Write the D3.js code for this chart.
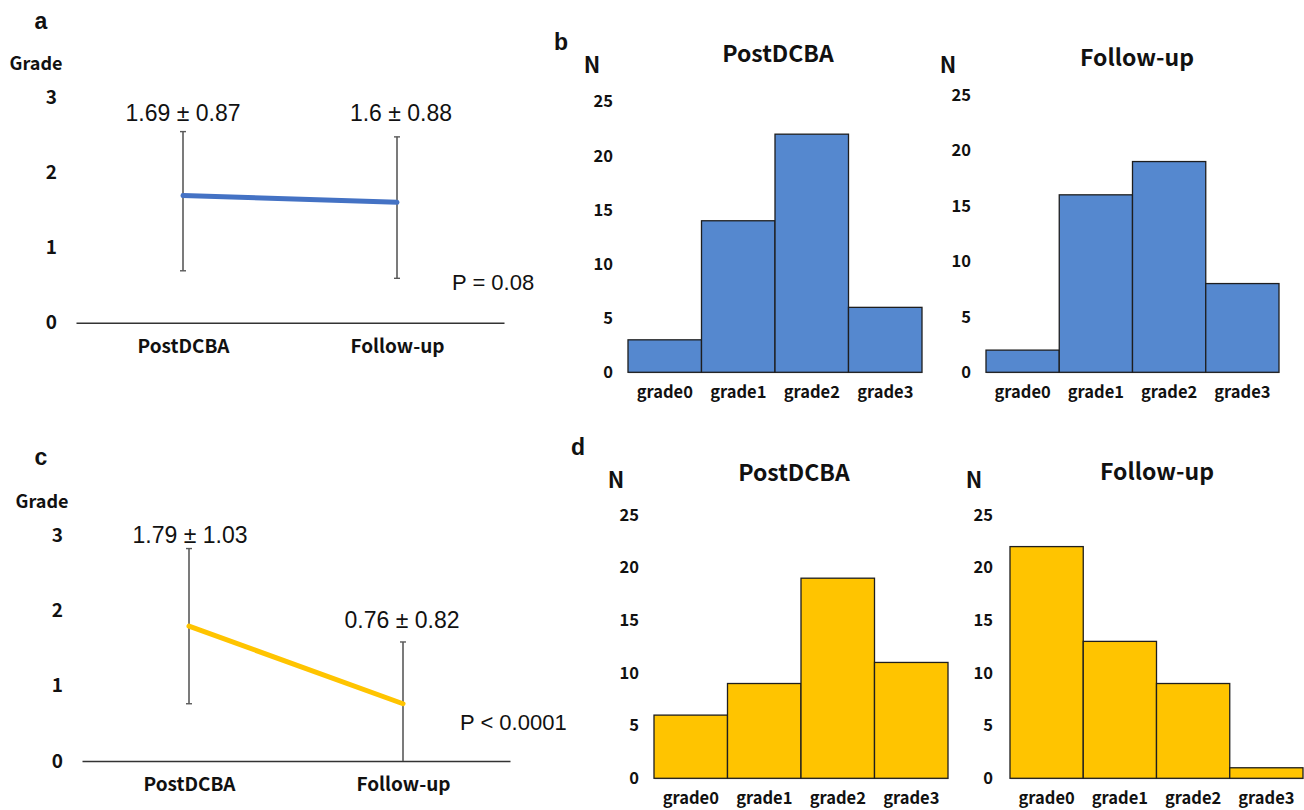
<!DOCTYPE html>
<html>
<head>
<meta charset="utf-8">
<script src="https://cdn.jsdelivr.net/npm/d3@7"></script>
<style>
  body { margin: 0; background: #fff; }
  svg text { fill: #111; }
  .num { font-family: "Liberation Sans", Arial, sans-serif; }
  .jp { font-family: "Noto Sans CJK JP", "Noto Sans", sans-serif; font-weight: 700; }
</style>
</head>
<body>
<div id="chart"></div>
<script>
//************************* data
const timepoints = ["PostDCBA", "Follow-up"];
const gradeTicks = [0, 1, 2, 3];

// panel a (blue)
const meanA = [1.69, 1.6];
const sdA = [0.87, 0.88];
const upperA = [2.54, 2.47];
const lowerA = [0.69, 0.59];
const pLabelA = "P = 0.08";

// panel c (yellow)
const meanC = [1.79, 0.76];
const sdC = [1.03, 0.82];
const upperC = [2.82, 1.58];
const lowerC = [0.76, 0];
const pLabelC = "P < 0.0001";

// histograms
const gradeCats = ["grade0", "grade1", "grade2", "grade3"];
const nTicks = [0, 5, 10, 15, 20, 25];
const countsBPost = [3, 14, 22, 6];
const countsBFollow = [2, 16, 19, 8];
const countsDPost = [6, 9, 19, 11];
const countsDFollow = [22, 13, 9, 1];

const blueLine = "#4472c4";
const blueBar = "#5588cf";
const yellow = "#ffc400";

//************************* canvas
const svg = d3.select("#chart").append("svg")
    .attr("width", 1304)
    .attr("height", 810);

function letter(txt, x, y) {
  svg.append("text")
    .attr("x", x).attr("y", y)
    .attr("text-anchor", "middle").attr("dominant-baseline", "central")
    .style("font-family", "Liberation Sans, Arial, sans-serif")
    .style("font-weight", 700).style("font-size", "23px")
    .text(txt);
}

//************************* line panel
function linePanel(o) {
  const g = svg.append("g");
  const x = d3.scalePoint().domain(timepoints).range([o.x0, o.x1]).padding(0.5);
  const y = d3.scaleLinear().domain([0, 3]).range([o.yBase, o.yTop]);

  const yAxis = g.append("g")
    .attr("transform", `translate(${o.x0},0)`)
    .call(d3.axisLeft(y).tickValues(gradeTicks).tickSize(0).tickPadding(19).tickFormat(d3.format("d")));
  yAxis.select(".domain").remove();
  yAxis.selectAll("text").attr("class", "jp").style("font-size", "19px");

  const xAxis = g.append("g")
    .attr("transform", `translate(0,${o.yBase})`)
    .call(d3.axisBottom(x).tickSize(0).tickSizeOuter(0).tickPadding(17));
  xAxis.select(".domain").attr("stroke", "#333").attr("stroke-width", 1.6);
  xAxis.selectAll("text").attr("class", "jp").style("font-size", "19px");

  g.append("text")
    .attr("x", o.gradeX).attr("y", o.gradeY)
    .attr("text-anchor", "middle").attr("dominant-baseline", "central")
    .attr("class", "jp").style("font-size", "18px")
    .text("Grade");

  // error bars
  const eb = g.selectAll(".eb").data(timepoints).join("g");
  eb.append("line")
    .attr("x1", d => x(d)).attr("x2", d => x(d))
    .attr("y1", (d, i) => y(o.upper[i])).attr("y2", (d, i) => y(o.lower[i]))
    .attr("stroke", "#5a5a5a").attr("stroke-width", 1.6);
  eb.append("line")
    .attr("x1", d => x(d) - 3).attr("x2", d => x(d) + 3)
    .attr("y1", (d, i) => y(o.upper[i])).attr("y2", (d, i) => y(o.upper[i]))
    .attr("stroke", "#5a5a5a").attr("stroke-width", 1.4);
  eb.filter((d, i) => o.lower[i] > 0).append("line")
    .attr("x1", d => x(d) - 3).attr("x2", d => x(d) + 3)
    .attr("y1", (d, i) => y(o.lower[i])).attr("y2", (d, i) => y(o.lower[i]))
    .attr("stroke", "#5a5a5a").attr("stroke-width", 1.4);

  const line = d3.line().x(d => x(d[0])).y(d => y(d[1]));
  g.append("path")
    .datum(timepoints.map((t, i) => [t, o.mean[i]]))
    .attr("d", line)
    .attr("fill", "none").attr("stroke", o.color).attr("stroke-width", 5)
    .attr("stroke-linecap", "round");

  g.selectAll(".ml").data(timepoints).join("text")
    .attr("class", "num")
    .attr("x", (d, i) => x(d) + o.labelDx[i])
    .attr("y", (d, i) => o.labelY(y, i))
    .attr("text-anchor", "middle").attr("dominant-baseline", "central")
    .style("font-size", "23px")
    .text((d, i) => `${o.mean[i]} \u00b1 ${o.sd[i]}`);

  g.append("text")
    .attr("class", "num")
    .attr("x", o.pX).attr("y", o.pY)
    .attr("dominant-baseline", "central")
    .style("font-size", "22px")
    .text(o.pLabel);
}

//************************* histogram panel
function histPanel(o) {
  const g = svg.append("g");
  const x = d3.scaleBand().domain(gradeCats).range([o.x0, o.x1]).padding(0);
  const y = d3.scaleLinear().domain([0, 25]).range([o.yBase, o.yTop]);

  const yAxis = g.append("g")
    .attr("transform", `translate(${o.x0},0)`)
    .call(d3.axisLeft(y).tickValues(nTicks).tickSize(0).tickPadding(o.pad));
  yAxis.select(".domain").remove();
  yAxis.selectAll("text").attr("class", "jp").style("font-size", "16.5px");

  const xAxis = g.append("g")
    .attr("transform", `translate(0,${o.yBase})`)
    .call(d3.axisBottom(x).tickSize(0).tickSizeOuter(0).tickPadding(14));
  xAxis.select(".domain").attr("stroke", "#d0d0d0").attr("stroke-width", 1);
  xAxis.selectAll("text").attr("class", "jp").style("font-size", "16.5px");

  g.selectAll(".bar").data(o.counts).join("rect")
    .attr("x", (d, i) => x(gradeCats[i]))
    .attr("y", d => y(d))
    .attr("width", x.bandwidth())
    .attr("height", d => y(0) - y(d))
    .attr("fill", o.color)
    .attr("stroke", "#1e1e1e").attr("stroke-width", 1.3);

  g.append("text")
    .attr("x", o.titleX).attr("y", o.titleY)
    .attr("text-anchor", "middle").attr("dominant-baseline", "central")
    .attr("class", "jp").style("font-size", "23px")
    .text(o.title);

  g.append("text")
    .attr("x", o.nX).attr("y", o.nY)
    .attr("text-anchor", "middle").attr("dominant-baseline", "central")
    .attr("class", "jp").style("font-size", "22px")
    .text("N");
}

//************************* draw
letter("a", 41, 21);
letter("b", 561, 42);
letter("c", 41, 457);
letter("d", 578, 447);

linePanel({
  x0: 76, x1: 504, yBase: 322.7, yTop: 97,
  mean: meanA, sd: sdA, upper: upperA, lower: lowerA, color: blueLine,
  gradeX: 36, gradeY: 62,
  labelDx: [0, 4], labelY: (y) => y(3) + 16,
  pLabel: pLabelA, pX: 452, pY: 282
});

linePanel({
  x0: 82, x1: 510, yBase: 761, yTop: 535,
  mean: meanC, sd: sdC, upper: upperC, lower: lowerC, color: yellow,
  gradeX: 42, gradeY: 500,
  labelDx: [1, -1], labelY: (y, i) => [535, 620][i],
  pLabel: pLabelC, pX: 460, pY: 722
});

histPanel({ x0: 628, x1: 922, yBase: 372.3, yTop: 101.7, pad: 15, counts: countsBPost,
  color: blueBar, title: "PostDCBA", titleX: 778, titleY: 52, nX: 592, nY: 63 });
histPanel({ x0: 986, x1: 1279, yBase: 372.3, yTop: 95, pad: 15, counts: countsBFollow,
  color: blueBar, title: "Follow-up", titleX: 1137, titleY: 56, nX: 948, nY: 63 });
histPanel({ x0: 654, x1: 948, yBase: 778.3, yTop: 515, pad: 15, counts: countsDPost,
  color: yellow, title: "PostDCBA", titleX: 794, titleY: 471, nX: 616, nY: 478 });
histPanel({ x0: 1010, x1: 1303, yBase: 778.3, yTop: 515, pad: 17, counts: countsDFollow,
  color: yellow, title: "Follow-up", titleX: 1157, titleY: 470, nX: 974, nY: 478 });
</script>
</body>
</html>
